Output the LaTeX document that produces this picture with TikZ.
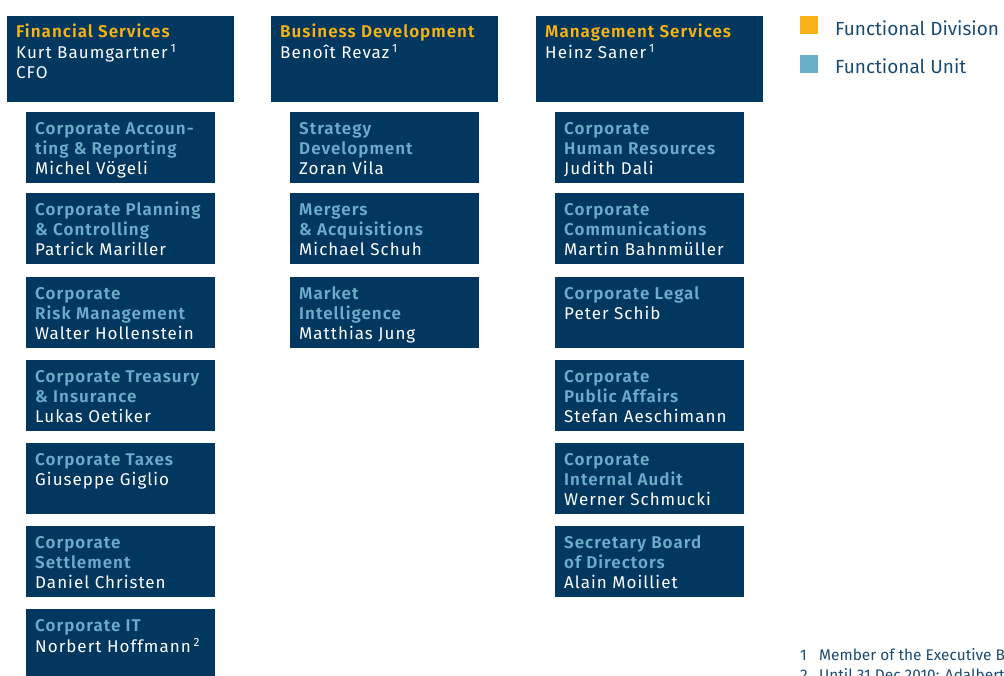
\documentclass[tikz,border=0pt]{standalone}
\usepackage{fontspec}
\setmainfont{Fira Sans}[LetterSpace=6,BoldFont={Fira Sans SemiBold}]
\newfontfamily\notefont{Fira Sans}
\usetikzlibrary{positioning}
\definecolor{navy}{HTML}{023760}
\definecolor{divorange}{HTML}{F7B215}
\definecolor{unitblue}{HTML}{6CADC9}
\definecolor{notetext}{HTML}{1B4B72}
\newcommand{\divbox}[2]{\parbox[t][72pt][t]{209pt}{\raggedright\strut{\color{divorange}\bfseries #1}\\{\color{white}#2}}}
\newcommand{\unitbox}[2]{\parbox[t][55pt][t]{171pt}{\raggedright\strut{\color{unitblue}\bfseries #1}\\{\color{white}#2}}}
\tikzset{
  division/.style={fill=navy,inner xsep=9pt,inner ysep=7pt,anchor=north west},
  unit/.style={fill=navy,inner xsep=9pt,inner ysep=8pt},
  key/.style={minimum size=18pt,inner sep=0pt,anchor=north west},
  note/.style={anchor=base west,inner sep=0pt,text=notetext,font=\notefont\fontsize{15.4}{20}\selectfont},
  keytext/.style={note,font=\notefont\fontsize{19}{20}\selectfont}
}

\begin{document}
\begin{tikzpicture}[x=1pt,y=-1pt,node distance=83pt,font=\fontsize{17}{20}\selectfont]
\useasboundingbox (0,0) rectangle (1004,675);
\clip (0,0) rectangle (1004,675);
\node[division] at (7,16) (fin) {\divbox{Financial Services}{Kurt Baumgartner\,\textsuperscript{1}\\CFO}};
\node[division] at (271,16) (bus) {\divbox{Business Development}{Benoît Revaz\,\textsuperscript{1}}};
\node[division] at (536,16) (man) {\divbox{Management Services}{Heinz Saner\,\textsuperscript{1}}};
% Financial Services
\node[unit,below of=fin,node distance=88.5pt] (fin1) {\unitbox{Corporate Accoun-\\ting \& Reporting}{Michel Vögeli}};
\node[unit,below of=fin1,node distance=81pt] (fin2) {\unitbox{Corporate Planning\\\& Controlling}{Patrick Mariller}};
\node[unit,below of=fin2,node distance=84pt] (fin3) {\unitbox{Corporate\\Risk Management}{Walter Hollenstein}};
\node[unit,below of=fin3] (fin4) {\unitbox{Corporate Treasury\\\& Insurance}{Lukas Oetiker}};
\node[unit,below of=fin4] (fin5) {\unitbox{Corporate Taxes}{Giuseppe Giglio}};
\node[unit,below of=fin5] (fin6) {\unitbox{Corporate\\Settlement}{Daniel Christen}};
\node[unit,below of=fin6] (fin7) {\unitbox{Corporate IT}{Norbert Hoffmann\,\textsuperscript{2}}};
% Business Development
\node[unit,below of=bus,node distance=88.5pt] (bus1) {\unitbox{Strategy\\Development}{Zoran Vila}};
\node[unit,below of=bus1,node distance=81pt] (bus2) {\unitbox{Mergers\\\& Acquisitions}{Michael Schuh}};
\node[unit,below of=bus2,node distance=84pt] (bus3) {\unitbox{Market\\Intelligence}{Matthias Jung}};
% Management Services
\node[unit,below of=man,node distance=88.5pt] (man1) {\unitbox{Corporate\\Human Resources}{Judith Dali}};
\node[unit,below of=man1,node distance=81pt] (man2) {\unitbox{Corporate\\Communications}{Martin Bahnmüller}};
\node[unit,below of=man2,node distance=84pt] (man3) {\unitbox{Corporate Legal}{Peter Schib}};
\node[unit,below of=man3] (man4) {\unitbox{Corporate\\Public Affairs}{Stefan Aeschimann}};
\node[unit,below of=man4] (man5) {\unitbox{Corporate\\Internal Audit}{Werner Schmucki}};
\node[unit,below of=man5] (man6) {\unitbox{Secretary Board\\of Directors}{Alain Moilliet}};
% key
\node[key,fill=divorange] at (800,16) (keydiv) {};
\node[keytext] at (835,35) (keydivtext) {Functional Division};
\node[key,fill=unitblue] at (800,55) (keyunit) {};
\node[keytext] at (835,73) (keyunittext) {Functional Unit};
% footnotes
\node[note] at (800,660) (note1num) {1};
\node[note] at (819,660) (note1) {Member of the Executive Board};
\node[note] at (800,680) (note2num) {2};
\node[note] at (819,680) (note2) {Until 31 Dec 2010: Adalbert};
\end{tikzpicture}
\end{document}
